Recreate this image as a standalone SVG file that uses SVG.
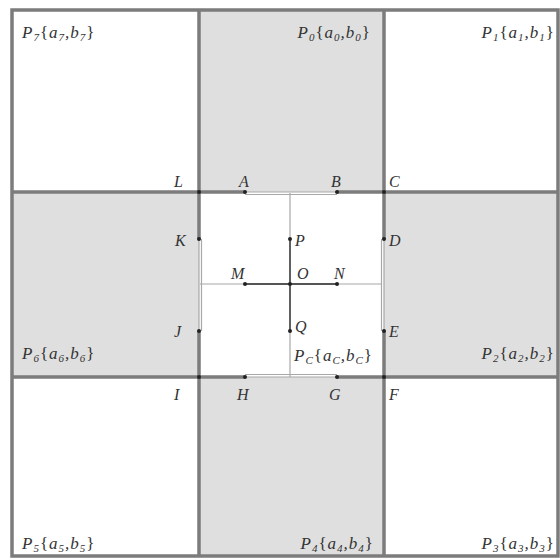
<svg xmlns="http://www.w3.org/2000/svg" width="560" height="560" viewBox="0 0 560 560">
<style>
.w{fill:#ffffff}
.g{fill:#dfdfdf}
.lbl{font-family:"Liberation Serif",serif;font-style:italic;font-size:17px;fill:#333;letter-spacing:1px}
.pl{font-family:"Liberation Serif",serif;font-style:italic;font-size:16px;fill:#333}
.sub{font-size:11px}
.br{font-style:normal}
.dk{stroke:#7c7c7c;stroke-width:3.5;fill:none}
.lt{stroke:#a8a8a8;stroke-width:1.2;fill:none}
.md{stroke:#555;stroke-width:1.8;fill:none}
.dot{fill:#222}
</style>
<rect x="0" y="0" width="560" height="560" fill="#ffffff"/>
<g id="P7"><rect class="w" x="12" y="10" width="187" height="182"/>
<text class="lbl" x="22" y="38">P<tspan class="sub" dy="3">7</tspan><tspan class="br" dy="-3">{</tspan>a<tspan class="sub" dy="3">7</tspan><tspan dy="-3">,</tspan>b<tspan class="sub" dy="3">7</tspan><tspan class="br" dy="-3">}</tspan></text></g>
<g id="P0"><rect class="g" x="199" y="10" width="185" height="182"/>
<text class="lbl" x="371" y="38" text-anchor="end">P<tspan class="sub" dy="3">0</tspan><tspan class="br" dy="-3">{</tspan>a<tspan class="sub" dy="3">0</tspan><tspan dy="-3">,</tspan>b<tspan class="sub" dy="3">0</tspan><tspan class="br" dy="-3">}</tspan></text></g>
<g id="P1"><rect class="w" x="384" y="10" width="174" height="182"/>
<text class="lbl" x="555" y="38" text-anchor="end">P<tspan class="sub" dy="3">1</tspan><tspan class="br" dy="-3">{</tspan>a<tspan class="sub" dy="3">1</tspan><tspan dy="-3">,</tspan>b<tspan class="sub" dy="3">1</tspan><tspan class="br" dy="-3">}</tspan></text></g>
<g id="P6"><rect class="g" x="12" y="192" width="187" height="185"/>
<text class="lbl" x="22" y="359">P<tspan class="sub" dy="3">6</tspan><tspan class="br" dy="-3">{</tspan>a<tspan class="sub" dy="3">6</tspan><tspan dy="-3">,</tspan>b<tspan class="sub" dy="3">6</tspan><tspan class="br" dy="-3">}</tspan></text></g>
<g id="PC"><rect class="w" x="199" y="192" width="185" height="185"/>
<text class="lbl" x="373" y="361" text-anchor="end">P<tspan class="sub" dy="3">C</tspan><tspan class="br" dy="-3">{</tspan>a<tspan class="sub" dy="3">C</tspan><tspan dy="-3">,</tspan>b<tspan class="sub" dy="3">C</tspan><tspan class="br" dy="-3">}</tspan></text></g>
<g id="P2"><rect class="g" x="384" y="192" width="174" height="185"/>
<text class="lbl" x="555" y="359" text-anchor="end">P<tspan class="sub" dy="3">2</tspan><tspan class="br" dy="-3">{</tspan>a<tspan class="sub" dy="3">2</tspan><tspan dy="-3">,</tspan>b<tspan class="sub" dy="3">2</tspan><tspan class="br" dy="-3">}</tspan></text></g>
<g id="P5"><rect class="w" x="12" y="377" width="187" height="179"/>
<text class="lbl" x="22" y="549">P<tspan class="sub" dy="3">5</tspan><tspan class="br" dy="-3">{</tspan>a<tspan class="sub" dy="3">5</tspan><tspan dy="-3">,</tspan>b<tspan class="sub" dy="3">5</tspan><tspan class="br" dy="-3">}</tspan></text></g>
<g id="P4"><rect class="g" x="199" y="377" width="185" height="179"/>
<text class="lbl" x="374" y="549" text-anchor="end">P<tspan class="sub" dy="3">4</tspan><tspan class="br" dy="-3">{</tspan>a<tspan class="sub" dy="3">4</tspan><tspan dy="-3">,</tspan>b<tspan class="sub" dy="3">4</tspan><tspan class="br" dy="-3">}</tspan></text></g>
<g id="P3"><rect class="w" x="384" y="377" width="174" height="179"/>
<text class="lbl" x="555" y="549" text-anchor="end">P<tspan class="sub" dy="3">3</tspan><tspan class="br" dy="-3">{</tspan>a<tspan class="sub" dy="3">3</tspan><tspan dy="-3">,</tspan>b<tspan class="sub" dy="3">3</tspan><tspan class="br" dy="-3">}</tspan></text></g>
<g id="connectors">
<rect class="dk" x="12" y="10" width="546" height="546"/>
<path class="lt" d="M290 193V377M200 284H382"/>
<path class="dk" d="M12 192H245M337 192H558M12 377H245M337 377H558M199 10V239M199 331V556M384 10V239M384 331V556"/>
<path class="lt" d="M245 192H337M245 377H337M199 239V331M384 239V331"/>
<path class="lt" d="M245 194.5H337M245 374.5H337M201.5 239V331M381.5 239V331"/>
<path class="md" d="M245 284H337M290 239V331"/>
</g>
<g id="pts">
<g id="L"><circle class="dot" cx="199" cy="192" r="2"/><text class="pl" x="174" y="187">L</text></g>
<g id="A"><circle class="dot" cx="245" cy="192" r="2"/><text class="pl" x="239" y="187">A</text></g>
<g id="B"><circle class="dot" cx="337" cy="192" r="2"/><text class="pl" x="331" y="187">B</text></g>
<g id="C"><circle class="dot" cx="384" cy="192" r="2"/><text class="pl" x="389" y="187">C</text></g>
<g id="K"><circle class="dot" cx="199" cy="239" r="2"/><text class="pl" x="175" y="246">K</text></g>
<g id="P"><circle class="dot" cx="290" cy="239" r="2"/><text class="pl" x="295" y="246">P</text></g>
<g id="D"><circle class="dot" cx="384" cy="239" r="2"/><text class="pl" x="389" y="246">D</text></g>
<g id="M"><circle class="dot" cx="245" cy="284" r="2"/><text class="pl" x="231" y="279">M</text></g>
<g id="O"><circle class="dot" cx="290" cy="284" r="2"/><text class="pl" x="297" y="279">O</text></g>
<g id="N"><circle class="dot" cx="337" cy="284" r="2"/><text class="pl" x="334" y="279">N</text></g>
<g id="J"><circle class="dot" cx="199" cy="331" r="2"/><text class="pl" x="174" y="337">J</text></g>
<g id="Q"><circle class="dot" cx="290" cy="331" r="2"/><text class="pl" x="295" y="332">Q</text></g>
<g id="E"><circle class="dot" cx="384" cy="331" r="2"/><text class="pl" x="389" y="337">E</text></g>
<g id="I"><circle class="dot" cx="199" cy="377" r="2"/><text class="pl" x="174" y="400">I</text></g>
<g id="H"><circle class="dot" cx="245" cy="377" r="2"/><text class="pl" x="237" y="400">H</text></g>
<g id="G"><circle class="dot" cx="337" cy="377" r="2"/><text class="pl" x="329" y="400">G</text></g>
<g id="F"><circle class="dot" cx="384" cy="377" r="2"/><text class="pl" x="389" y="400">F</text></g>
</g>
</svg>
